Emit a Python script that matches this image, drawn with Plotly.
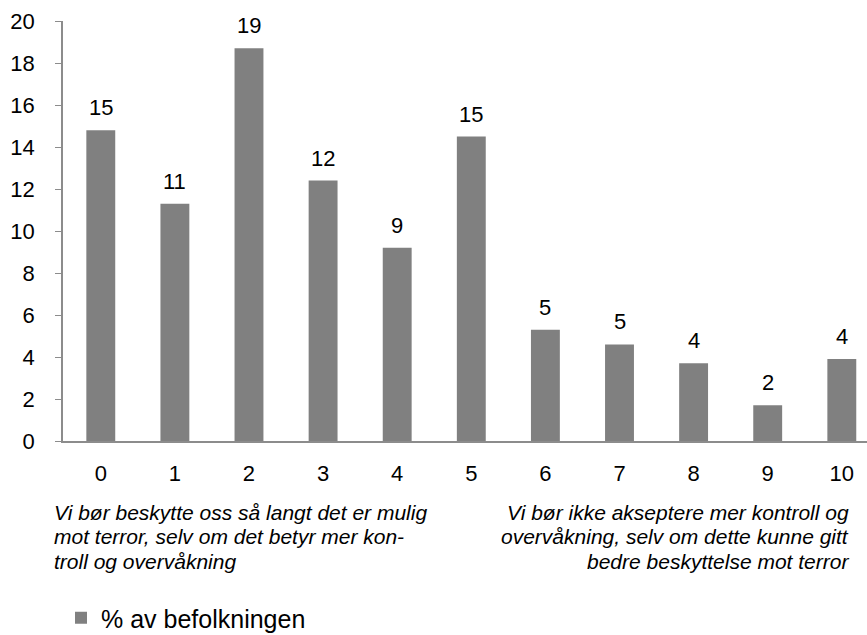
import plotly.graph_objects as go

categories = ["0", "1", "2", "3", "4", "5", "6", "7", "8", "9", "10"]
values = [14.8, 11.3, 18.7, 12.4, 9.2, 14.5, 5.3, 4.6, 3.7, 1.7, 3.9]
labels = ["15", "11", "19", "12", "9", "15", "5", "5", "4", "2", "4"]
series_name = "% av befolkningen"
y_ticks = [0, 2, 4, 6, 8, 10, 12, 14, 16, 18, 20]
left_note = ["Vi bør beskytte oss så langt det er mulig",
             "mot terror, selv om det betyr mer kon-",
             "troll og overvåkning"]
right_note = ["Vi bør ikke akseptere mer kontroll og",
              "overvåkning, selv om dette kunne gitt",
              "bedre beskyttelse mot terror"]

FONT = "Liberation Sans, Arial, sans-serif"
xs = list(range(len(categories)))

# plot geometry (pixels)
W, H = 867, 635
ML, MR, MT, MB = 63, 0, 21, 194
PW, PH = W - ML - MR, H - MT - MB
base_px = H - MB


def py(ypx):
    return (base_px - ypx) / PH


def px(xpx):
    return (xpx - ML) / PW


fig = go.Figure()
fig.add_trace(go.Bar(x=xs, y=values, name=series_name, marker_color="#808080",
                     marker_line_width=0, showlegend=True))

for x, v, t in zip(xs, values, labels):
    fig.add_annotation(x=x, y=v, text=t, showarrow=False, yanchor="bottom",
                       yshift=8, font=dict(family=FONT, size=22, color="#000"))

line_centers = [512, 536.5, 561]
for txt, yc in zip(left_note, line_centers):
    fig.add_annotation(xref="paper", yref="paper", x=px(52), y=py(yc), xanchor="left",
                       yanchor="middle", text="<i>" + txt + "</i>", showarrow=False,
                       font=dict(family=FONT, size=21, color="#000"))
for txt, yc in zip(right_note, line_centers):
    fig.add_annotation(xref="paper", yref="paper", x=px(851), y=py(yc), xanchor="right",
                       yanchor="middle", text="<i>" + txt + "</i>", showarrow=False,
                       font=dict(family=FONT, size=21, color="#000"))

fig.update_layout(
    width=W, height=H,
    margin=dict(l=ML, r=MR, t=MT, b=MB, autoexpand=False),
    paper_bgcolor="white", plot_bgcolor="white",
    bargap=0.61,
    font=dict(family=FONT, size=22, color="#000"),
    legend=dict(x=px(61), y=py(618), xanchor="left", yanchor="middle", orientation="h",
                font=dict(family=FONT, size=25, color="#000"),
                itemwidth=30),
    xaxis=dict(range=[-0.51, 10.34], tickvals=xs, ticktext=categories, showgrid=False,
               showline=True, linecolor="#8c8c8c", linewidth=2, ticks="",
               ticklabelstandoff=12, zeroline=False, tickfont=dict(size=22),
               automargin=False),
    yaxis=dict(range=[0, 20], tickvals=y_ticks, showgrid=False, showline=True,
               linecolor="#8c8c8c", linewidth=1.5, ticks="outside", ticklen=6,
               tickcolor="#8c8c8c", ticklabelstandoff=16, zeroline=False,
               tickfont=dict(size=22), automargin=False),
)

fig.write_html("out.html", config={"displayModeBar": False},
               post_script="document.body.style.margin='0';")
